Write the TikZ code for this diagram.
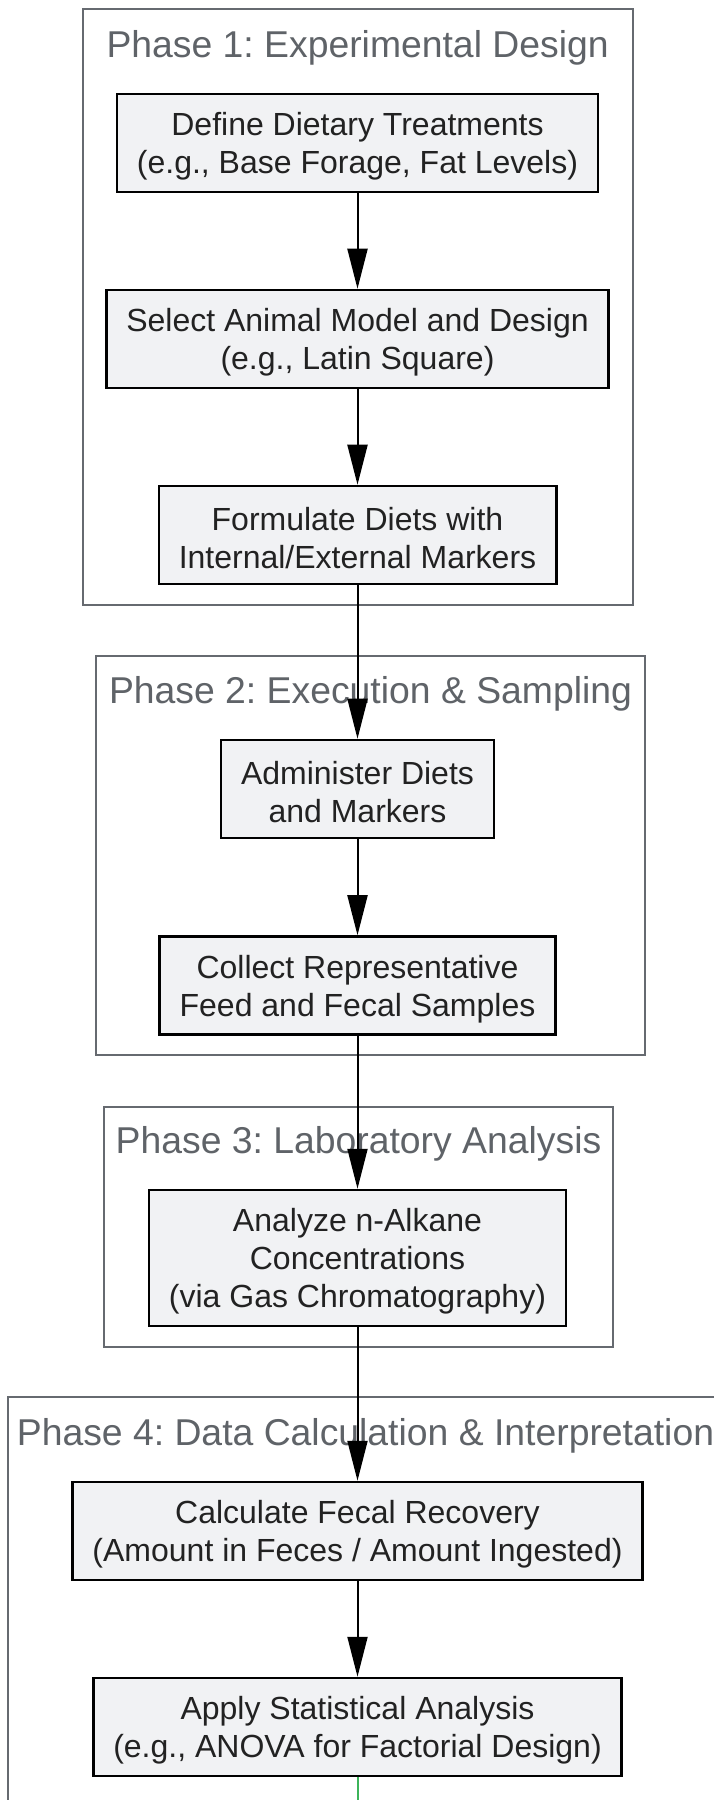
\documentclass[tikz,border=0pt]{standalone}
\usepackage{fontspec}
\setmainfont{Liberation Sans}
\frenchspacing
\usetikzlibrary{arrows.meta}
\definecolor{marco}{RGB}{102,106,112}
\definecolor{titulo}{RGB}{95,99,104}
\definecolor{relleno}{RGB}{241,242,244}
\definecolor{texto}{RGB}{34,34,34}
\definecolor{verde}{RGB}{60,180,90}
\newcommand{\arriba}{\rule{0pt}{22.7pt}}
\begin{document}
\begin{tikzpicture}[x=0.75pt,y=-0.75pt,
    every node/.style={font=\fontsize{24}{28.5}\selectfont},
    paso/.style={draw=black,line width=1.9pt,fill=relleno,align=center,text=texto,
      inner xsep=15pt,inner ysep=0pt,minimum height=73.5pt},
    fase/.style={draw=marco,line width=1.5pt},
    rotulo/.style={text=titulo,font=\fontsize{28}{33}\selectfont},
    flecha/.style={line width=1.5pt,-{Triangle[length=30pt,width=15pt]}}]
    \clip (0,0) rectangle (714,1800);
    \fill[white] (0,0) rectangle (714,1800);

    % Marcos de las cuatro fases, con su titulo arriba.
    \draw[fase] (82.7,9.2) rectangle (632.6,605);
    \node[rotulo] (t1) at (357.6,47.5) {Phase 1: Experimental Design};
    \draw[fase] (96,656) rectangle (645,1055);
    \node[rotulo] (t2) at (370.5,693.5) {Phase 2: Execution \& Sampling};
    \draw[fase] (104,1107) rectangle (613,1347);
    \node[rotulo] (t3) at (358.5,1143.5) {Phase 3: Laboratory Analysis};
    \draw[fase] (8,1397) rectangle (723,1840);
    \node[rotulo] (t4) at (365.5,1435.5) {Phase 4: Data Calculation \& Interpretation};

    % Pasos del protocolo, todos centrados en x=357.
    \node[paso] (b1) at (357.5,143) {\arriba Define Dietary Treatments\\(e.g., Base Forage, Fat Levels)};
    \node[paso] (b2) at (357.5,339) {\arriba Select Animal Model and Design\\(e.g., Latin Square)};
    \node[paso] (b3) at (357.5,535) {\arriba Formulate Diets with\\Internal/External Markers};
    \node[paso] (b4) at (357.5,789) {\arriba Administer Diets\\and Markers};
    \node[paso] (b5) at (357.5,985.5) {\arriba Collect Representative\\Feed and Fecal Samples};
    \node[paso,minimum height=102pt] (b6) at (357.5,1258) {\arriba Analyze n-Alkane\\Concentrations\\(via Gas Chromatography)};
    \node[paso] (b7) at (357.5,1531) {\arriba Calculate Fecal Recovery\\(Amount in Feces / Amount Ingested)};
    \node[paso] (b8) at (357.5,1727) {\arriba Apply Statistical Analysis\\(e.g., ANOVA for Factorial Design)};
    \coordinate (fin) at (357.5,1800);

    % Flechas entre pasos consecutivos.
    \foreach \a/\b in {b1/b2,b2/b3,b3/b4,b4/b5,b5/b6,b6/b7,b7/b8}
      \draw[flecha] (\a.south) -- (\b.north);
    \draw[verde,line width=1.5pt] (b8.south) -- (fin);
\end{tikzpicture}
\end{document}
